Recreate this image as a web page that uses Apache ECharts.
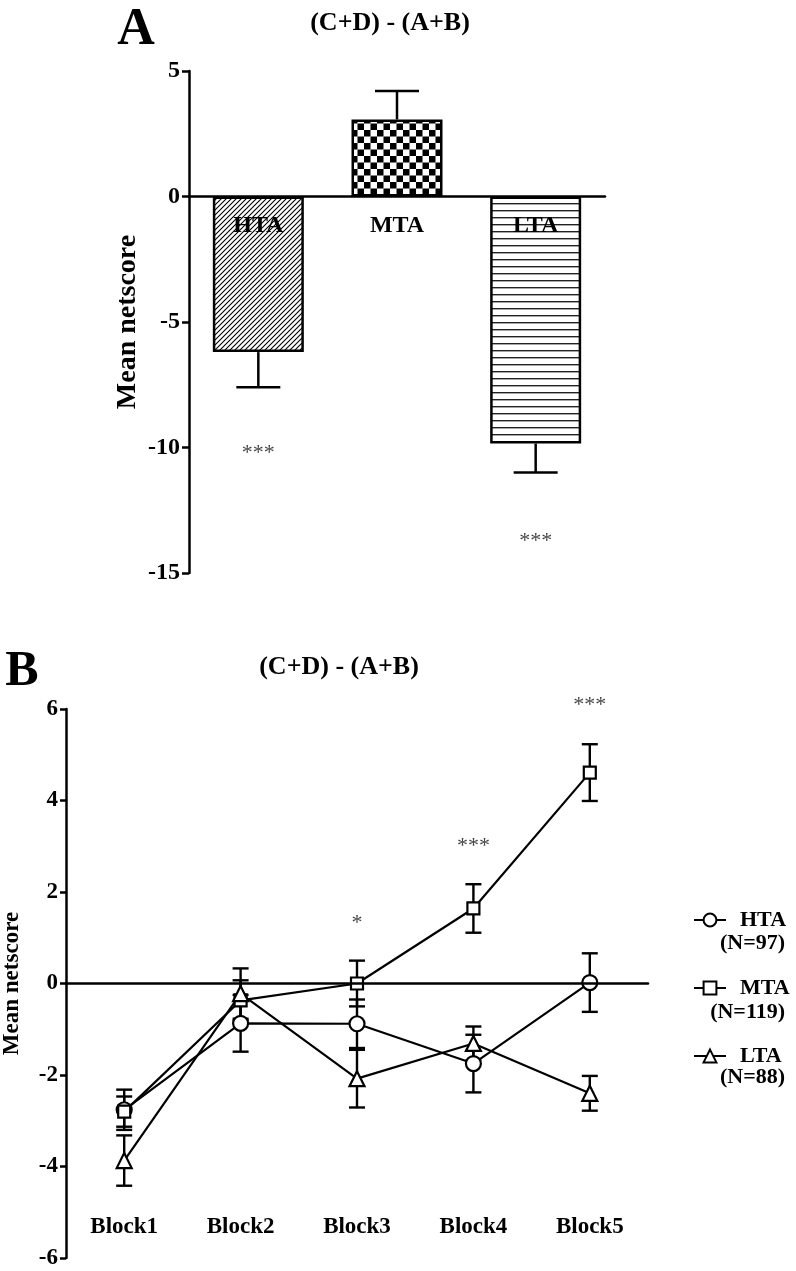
<!DOCTYPE html>
<html><head><meta charset="utf-8">
<script src="https://cdn.jsdelivr.net/npm/echarts@6/dist/echarts.min.js"></script>
<style>html,body{margin:0;padding:0;background:#fff}#c{width:796px;height:1271px}</style>
</head><body><div id="c"></div>
<script>
// ---------- Panel A data ----------
const groupsA = ['HTA', 'MTA', 'LTA'];
const meansA = [-6.2, 3.07, -9.84];
const errA = [1.4, 1.13, 1.16];
const starsA = [['HTA', -10.24, '***'], ['LTA', -13.75, '***']];
const titleA = '(C+D) - (A+B)';
// ---------- Panel B data ----------
const blocks = ['Block1', 'Block2', 'Block3', 'Block4', 'Block5'];
const htaMean = [-2.76, -0.87, -0.88, -1.75, 0.02];
const htaErr = [0.44, 0.62, 0.53, 0.63, 0.64];
const mtaMean = [-2.8, -0.37, 0.0, 1.64, 4.61];
const mtaErr = [0.33, 0.44, 0.5, 0.53, 0.62];
const ltaMean = [-3.87, -0.22, -2.08, -1.31, -2.4];
const ltaErr = [0.55, 0.55, 0.63, 0.37, 0.38];
const starsB = [['Block3', 1.31, '*'], ['Block4', 2.99, '***'], ['Block5', 6.08, '***']];
const seriesNames = ['HTA', 'MTA', 'LTA'];
const seriesN = ['(N=97)', '(N=119)', '(N=88)'];
const titleB = '(C+D) - (A+B)';
const yName = 'Mean netscore';

const FONT = '"Liberation Serif","Times New Roman",serif';

function pattern(type) {
  const c = document.createElement('canvas');
  const g = c.getContext('2d');
  if (type === 'hatch') {
    const s = 5; c.width = s; c.height = s;
    g.fillStyle = '#fff'; g.fillRect(0, 0, s, s);
    g.strokeStyle = '#000'; g.lineWidth = 1.1;
    g.beginPath();
    g.moveTo(0, s); g.lineTo(s, 0);
    g.moveTo(-1, 1); g.lineTo(1, -1);
    g.moveTo(s - 1, s + 1); g.lineTo(s + 1, s - 1);
    g.stroke();
  } else if (type === 'checker') {
    const s = 13; c.width = s; c.height = s;
    g.fillStyle = '#fff'; g.fillRect(0, 0, s, s);
    g.fillStyle = '#000';
    g.fillRect(0, 0, s / 2, s / 2);
    g.fillRect(s / 2, s / 2, s / 2, s / 2);
  } else {
    c.width = 4; c.height = 7;
    g.fillStyle = '#fff'; g.fillRect(0, 0, 4, 7);
    g.fillStyle = '#222'; g.fillRect(0, 0, 4, 1.4);
  }
  return { image: c, repeat: 'repeat' };
}
const pats = [pattern('hatch'), pattern('checker'), pattern('lines')];

const chart = echarts.init(document.getElementById('c'), null, { renderer: 'canvas' });

function errA_render(params, api) {
  const x = api.value(0), m = api.value(1), e = api.value(2);
  const p0 = api.coord([x, m]);
  const p1 = api.coord([x, m >= 0 ? m + e : m - e]);
  const hw = 22;
  const st = { stroke: '#000', lineWidth: 2.5 };
  return { type: 'group', children: [
    { type: 'line', shape: { x1: p0[0], y1: p0[1], x2: p1[0], y2: p1[1] }, style: st },
    { type: 'line', shape: { x1: p1[0] - hw, y1: p1[1], x2: p1[0] + hw, y2: p1[1] }, style: st }
  ]};
}
function errB_render(params, api) {
  const x = api.value(0), m = api.value(1), e = api.value(2);
  const pt = api.coord([x, m + e]);
  const pb = api.coord([x, m - e]);
  const hw = 8;
  const st = { stroke: '#000', lineWidth: 2.4 };
  return { type: 'group', children: [
    { type: 'line', shape: { x1: pt[0], y1: pt[1], x2: pb[0], y2: pb[1] }, style: st },
    { type: 'line', shape: { x1: pt[0] - hw, y1: pt[1], x2: pt[0] + hw, y2: pt[1] }, style: st },
    { type: 'line', shape: { x1: pb[0] - hw, y1: pb[1], x2: pb[0] + hw, y2: pb[1] }, style: st }
  ]};
}

const meansB = [htaMean, mtaMean, ltaMean];
const errsB = [htaErr, mtaErr, ltaErr];
const symbols = ['circle', 'rect', 'triangle'];
const symSizes = [15, 12, 15];

const axisLineStyle = { color: '#000', width: 2.5 };

const series = [
  {
    type: 'bar', xAxisIndex: 0, yAxisIndex: 0, barWidth: 91, z: 2,
    data: meansA.map((v, i) => ({ value: v, itemStyle: { color: pats[i], borderColor: '#000', borderWidth: 2.5 } }))
  },
  {
    type: 'custom', xAxisIndex: 0, yAxisIndex: 0, z: 3,
    renderItem: errA_render,
    data: meansA.map((v, i) => [i, v, errA[i]])
  },
  {
    type: 'scatter', xAxisIndex: 0, yAxisIndex: 0, symbolSize: 1, clip: false,
    itemStyle: { color: 'rgba(0,0,0,0)' },
    label: { show: true, position: 'inside', formatter: p => p.data[2], fontFamily: FONT, fontSize: 22, color: '#111' },
    data: starsA
  }
];
meansB.forEach((arr, k) => {
  series.push({
    type: 'custom', xAxisIndex: 1, yAxisIndex: 1, z: 2,
    renderItem: errB_render,
    data: arr.map((v, i) => [i, v, errsB[k][i]])
  });
});
meansB.forEach((arr, k) => {
  series.push({
    type: 'line', name: seriesNames[k], xAxisIndex: 1, yAxisIndex: 1, z: 4,
    symbol: symbols[k], symbolSize: symSizes[k], showAllSymbol: true,
    lineStyle: { color: '#000', width: 2.2 },
    itemStyle: { color: '#fff', borderColor: '#000', borderWidth: 2.2 },
    data: arr
  });
});
series.push({
  type: 'scatter', xAxisIndex: 1, yAxisIndex: 1, symbolSize: 1, clip: false,
  itemStyle: { color: 'rgba(0,0,0,0)' },
  label: { show: true, position: 'inside', formatter: p => p.data[2], fontFamily: FONT, fontSize: 22, color: '#111' },
  data: starsB
});

const graphic = [
  { type: 'text', x: 136, y: 31, style: { text: 'A', font: 'bold 52px ' + FONT, fill: '#000', align: 'center', verticalAlign: 'middle' } },
  { type: 'text', x: 390, y: 23, style: { text: titleA, font: 'bold 26px ' + FONT, fill: '#000', align: 'center', verticalAlign: 'middle' } },
  { type: 'text', x: 22, y: 672, style: { text: 'B', font: 'bold 50px ' + FONT, fill: '#000', align: 'center', verticalAlign: 'middle' } },
  { type: 'text', x: 339, y: 667, style: { text: titleB, font: 'bold 26px ' + FONT, fill: '#000', align: 'center', verticalAlign: 'middle' } }
];
const nY = [943, 1012, 1077];
seriesN.forEach((t, i) => {
  graphic.push({ type: 'text', x: 785, y: nY[i], style: { text: t, font: 'bold 22px ' + FONT, fill: '#000', align: 'right', verticalAlign: 'middle' } });
});

chart.setOption({
  animation: false,
  backgroundColor: '#fff',
  graphic: graphic,
  grid: [
    { left: 189, top: 71, width: 416, height: 502, outerBoundsMode: 'none' },
    { left: 66, top: 709, width: 582, height: 549, outerBoundsMode: 'none' }
  ],
  legend: {
    orient: 'vertical', left: 688, top: 902, itemGap: 42,
    itemWidth: 32, itemHeight: 16,
    data: seriesNames,
    textStyle: { fontFamily: FONT, fontWeight: 'bold', fontSize: 22, color: '#000', lineHeight: 26, padding: [0, 0, 0, 9] }
  },
  xAxis: [
    {
      type: 'category', gridIndex: 0, data: groupsA, z: 10,
      position: 'bottom', offset: -377,
      axisLine: { onZero: false, lineStyle: axisLineStyle }, axisTick: { show: false },
      axisLabel: { margin: 18, fontFamily: FONT, fontWeight: 'bold', fontSize: 24, color: '#000' }
    },
    {
      type: 'category', gridIndex: 1, data: blocks, z: 10,
      position: 'bottom', offset: -275,
      axisLine: { onZero: false, lineStyle: axisLineStyle },
      axisTick: { length: 8, lineStyle: { color: '#000', width: 2.5 } },
      axisLabel: { margin: 233, fontFamily: FONT, fontWeight: 'bold', fontSize: 23, color: '#000' }
    }
  ],
  yAxis: [
    {
      type: 'value', gridIndex: 0, min: -15, max: 5, interval: 5,
      name: yName, nameLocation: 'middle', nameGap: 47, nameRotate: 90, nameMoveOverlap: false,
      nameTextStyle: { fontFamily: FONT, fontWeight: 'bold', fontSize: 28, color: '#000' },
      splitLine: { show: false },
      axisLine: { show: true, lineStyle: axisLineStyle },
      axisTick: { show: true, length: 7, lineStyle: { color: '#000', width: 2.5 } },
      axisLabel: { margin: 9, fontFamily: FONT, fontWeight: 'bold', fontSize: 24, color: '#000' }
    },
    {
      type: 'value', gridIndex: 1, min: -6, max: 6, interval: 2,
      name: yName, nameLocation: 'middle', nameGap: 42, nameRotate: 90, nameMoveOverlap: false,
      nameTextStyle: { fontFamily: FONT, fontWeight: 'bold', fontSize: 23, color: '#000' },
      splitLine: { show: false },
      axisLine: { show: true, lineStyle: axisLineStyle },
      axisTick: { show: true, length: 6, lineStyle: { color: '#000', width: 2.5 } },
      axisLabel: { margin: 8, fontFamily: FONT, fontWeight: 'bold', fontSize: 23, color: '#000' }
    }
  ],
  series: series
});
</script></body></html>
